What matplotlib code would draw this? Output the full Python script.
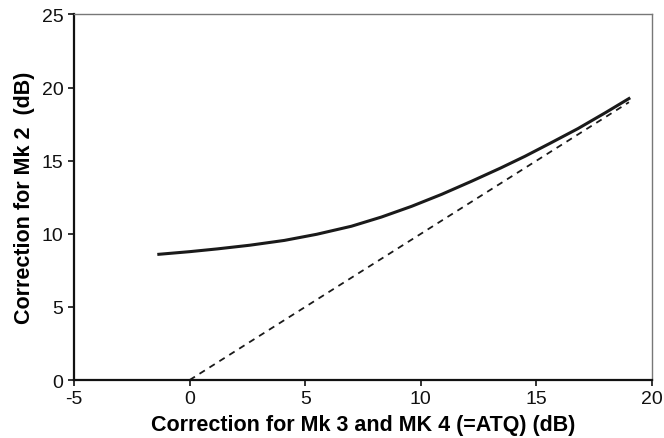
import numpy as np
import matplotlib.pyplot as plt

plt.rcParams['font.family'] = ['Liberation Sans', 'DejaVu Sans']
plt.rcParams['axes.unicode_minus'] = False

# Mk 2 correction vs Mk 3/Mk 4 correction
atq = [-1.33, 0, 1.2, 2.6, 4.1, 5.5, 7.0, 8.3, 9.6, 10.9, 12.2, 13.45, 14.5, 15.6, 16.8, 18.0, 19.0]
mk2 = [8.6, 8.78, 8.97, 9.22, 9.55, 9.97, 10.52, 11.15, 11.88, 12.7, 13.6, 14.5, 15.3, 16.2, 17.2, 18.3, 19.25]

# equality line
eq_x = [0, 19]
eq_y = [0, 19]

fig = plt.figure(figsize=(6.64, 4.39), dpi=100)
ax = fig.add_axes([0.1114, 0.132, 0.982 - 0.1114, 0.9647 - 0.132])

ax.plot(atq, mk2, color="#1a1a1a", lw=2.2, solid_joinstyle="round")
ax.plot(eq_x, eq_y, color="#1a1a1a", lw=1.3, linestyle=(0, (3.5, 3)))

ax.set_xlim(-5, 20)
ax.set_ylim(0, 25)
ax.set_xticks([-5, 0, 5, 10, 15, 20])
ax.set_yticks([0, 5, 10, 15, 20, 25])

for s in ["left", "bottom"]:
    ax.spines[s].set_linewidth(1.6)
    ax.spines[s].set_color("#111111")
for s in ["top", "right"]:
    ax.spines[s].set_linewidth(1.0)
    ax.spines[s].set_color("#777777")

ax.tick_params(direction="out", length=4, width=1.2, labelsize=14, colors="#111111", pad=3.5)

ax.set_xlabel("Correction for Mk 3 and MK 4 (=ATQ) (dB)", fontsize=15.5, fontweight="bold", labelpad=5)
ax.set_ylabel("Correction for Mk 2  (dB)", fontsize=15.5, fontweight="bold", labelpad=5)

plt.savefig("out.png", dpi=100)
